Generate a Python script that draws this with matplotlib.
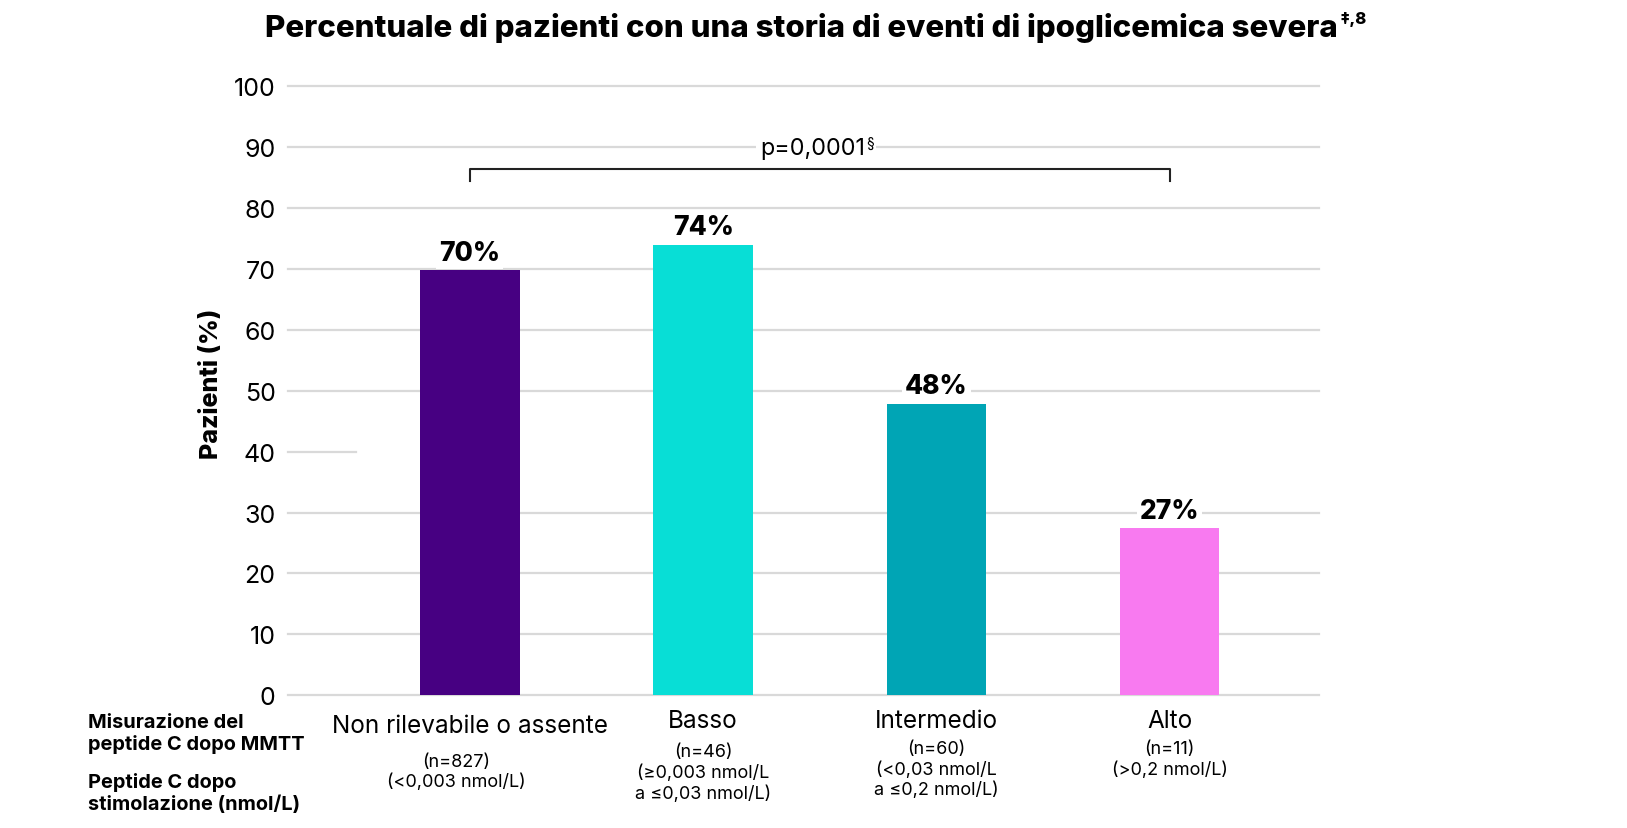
import numpy as np
import matplotlib
matplotlib.use('Agg')
import matplotlib.pyplot as plt

plt.rcParams['font.family'] = ['Inter', 'DejaVu Sans']

categories = ['Non rilevabile o assente', 'Basso', 'Intermedio', 'Alto']
details = ['(n=827)\n(<0,003 nmol/L)',
           '(n=46)\n(≥0,003 nmol/L\na ≤0,03 nmol/L)',
           '(n=60)\n(<0,03 nmol/L\na ≤0,2 nmol/L)',
           '(n=11)\n(>0,2 nmol/L)']
values = [69.8, 74.0, 47.9, 27.4]
value_labels = ['70%', '74%', '48%', '27%']
colors = ['#470082', '#08DED6', '#00A5B5', '#F87AF0']
yticks = [0, 10, 20, 30, 40, 50, 60, 70, 80, 90, 100]
p_text = 'p=0,0001'

fig = plt.figure(figsize=(16.27, 8.29), dpi=100)
ax = fig.add_axes([0.177, 0.1601, 0.634, 0.7345])

x = np.arange(len(categories))
ax.set_xlim(-0.78, 3.643)
ax.set_ylim(0, 100)

# gridlines drawn by hand (the one at 40 is cut short in the original)
for t in yticks:
    xmax = 0.066 if t == 40 else 1.0
    ax.axhline(t, xmin=0, xmax=xmax, color='#d9d9d9', lw=1.6, zorder=0, clip_on=False)

ax.bar(x, values, width=0.427, color=colors, zorder=2)

for xi, v, lab in zip(x, values, value_labels):
    ax.annotate(lab, (xi, v), xytext=(0, 12.5), textcoords='offset points',
                ha='center', va='center', fontsize=19, fontweight='heavy',
                bbox=dict(facecolor='white', edgecolor='none', pad=2), zorder=3)

# bracket + p value
bx0, bx1, by, bt = 0, 3, 86.4, 84.5
ax.plot([bx0, bx0, bx1, bx1], [bt, by, by, bt], color='#222222', lw=1.5, zorder=3)
pt = ax.text((bx0 + bx1) / 2 - 0.03, 89.8, p_text, ha='center', va='center', fontsize=16.8,
             bbox=dict(facecolor='white', edgecolor='none', pad=3), zorder=3)
ax.annotate('§', xy=(1, 1), xycoords=pt, xytext=(1, 1), textcoords='offset points',
            ha='left', va='top', fontsize=10, zorder=4,
            bbox=dict(facecolor='white', edgecolor='none', pad=1))

ax.set_yticks(yticks)
ax.set_yticklabels([str(t) for t in yticks], fontsize=18)
ax.tick_params(axis='y', length=0, pad=9)
ax.set_xticks([])
for s in ax.spines.values():
    s.set_visible(False)

# category labels under the bars
for xi, cat, det in zip(x, categories, details):
    cy = -5.0 if xi == 0 else -4.2
    ax.text(xi, cy, cat, ha='center', va='center', fontsize=17.5, clip_on=False)
    dy = -9.4 if xi == 0 else (-7.9 if xi == 1 else -7.3)
    dx = xi - 0.058 if xi == 0 else xi
    ax.text(dx, dy, det, ha='center', va='top', fontsize=13, linespacing=1.25, clip_on=False)

fig.text(0.054, 0.1150, 'Misurazione del\npeptide C dopo MMTT', ha='left', va='center',
         fontsize=14.4, fontweight='bold', linespacing=1.2)
fig.text(0.054, 0.0430, 'Peptide C dopo\nstimolazione (nmol/L)', ha='left', va='center',
         fontsize=14.4, fontweight='bold', linespacing=1.25)

fig.text(0.1297, 0.5368, 'Pazienti (%)', rotation=90, ha='center', va='center',
         fontsize=18, fontweight='heavy')

title = fig.text(0.4925, 0.966, 'Percentuale di pazienti con una storia di eventi di ipoglicemica severa',
                 ha='center', va='center', fontsize=22.5, fontweight='heavy')
ax.annotate('‡,8', xy=(1, 1), xycoords=title, xytext=(1, 1), textcoords='offset points',
            ha='left', va='top', fontsize=12, fontweight='heavy')

fig.savefig('out.png', dpi=100)
